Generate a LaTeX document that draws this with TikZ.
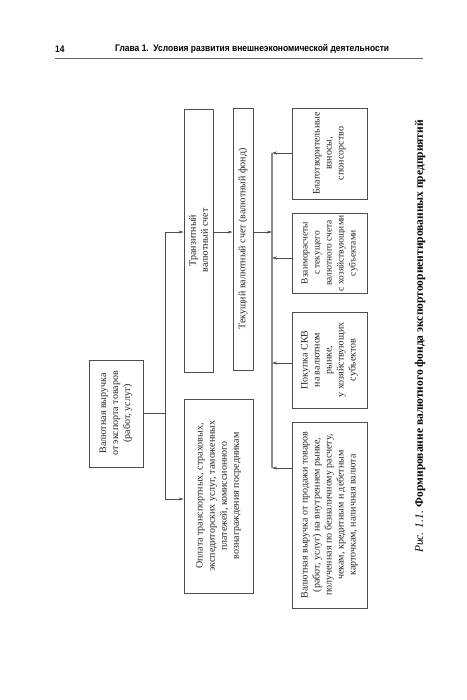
\documentclass[tikz,border=0pt]{standalone}
\usepackage{fontspec}
\setmainfont{Liberation Serif}
\newfontfamily\hdrfont[FakeStretch=0.88]{Liberation Sans}
\usetikzlibrary{arrows.meta}
\begin{document}
\begin{tikzpicture}[x=1pt,y=-1pt,
  box/.style={draw=black!70, line width=0.7pt, rotate=90, inner sep=0pt, align=center,
    font=\fontsize{10}{12}\selectfont, text=black!85},
  conn/.style={draw=black!70, line width=0.7pt},
  arr/.style={conn, -{Stealth[length=5pt,width=3pt]}},
  bus/.style={draw=black!45, line width=1.3pt},
]
\useasboundingbox (0,0) rectangle (466,700);
\fill[white] (0,0) rectangle (466,700);

% header
\node[anchor=west, inner sep=0pt, font=\hdrfont\bfseries\fontsize{9.6}{11}\selectfont] (pg) at (55,49) {14};
\node[anchor=west, inner sep=0pt, font=\hdrfont\bfseries\fontsize{9.6}{11}\selectfont] (hd) at (115,49) {Глава 1.~~Условия развития внешнеэкономической деятельности};
\coordinate (r1) at (55,58);
\coordinate (r2) at (423,58);
\draw[black!60, line width=0.8pt] (r1) -- (r2);

% boxes
\node[box, minimum width=107, minimum height=54] (A) at (116,413.5)
  {Валютная выручка\\от экспорта товаров\\(работ, услуг)};
\node[box, minimum width=263, minimum height=29] (B) at (198.5,240.5)
  {Транзитный\\валютный счет};
\node[box, minimum width=194, minimum height=69] (C) at (218.5,496)
  {Оплата транспортных, страховых,\\экспедиторских услуг, таможенных\\платежей, комиссионного\\вознаграждения посредникам};
\node[box, minimum width=262, minimum height=20] (D) at (243,239)
  {Текущий валютный счет (валютный фонд)};
\node[box, minimum width=91, minimum height=75] (E) at (329.5,153.5)
  {Благотворительные\\взносы,\\спонсорство};
\node[box, minimum width=80, minimum height=75, font=\fontsize{9.4}{12}\selectfont] (F) at (329.5,253)
  {Взаиморасчеты\\с текущего\\валютного счета\\с хозяйствующими\\субъектами};
\node[box, minimum width=96, minimum height=75] (G) at (329.5,360)
  {Покупка СКВ\\на валютном\\рынке,\\у хозяйствующих\\субъектов};
\node[box, minimum width=186, minimum height=75] (H) at (329.5,515)
  {Валютная выручка от продажи товаров\\(работ, услуг) на внутреннем рынке,\\полученная по безналичному расчету,\\чекам, кредитным и дебетным\\карточкам, наличная валюта};

% caption
\node[rotate=90, inner sep=0pt, font=\fontsize{11.5}{13}\selectfont] (cap) at (420,336.5)
  {\textit{Рис. 1.1.} \textbf{Формирование валютного фонда экспортоориентированных предприятий}};

% connectors
\coordinate (j1) at (165,232);
\coordinate (j2) at (165,499);
\coordinate (b1) at (272,153);
\coordinate (b2) at (272,258);
\coordinate (b3) at (272,363);
\coordinate (b4) at (272,468);

\draw[conn] (A.south) -- (A.south -| j1);
\draw[conn] (j1) -- (j2);
\draw[arr] (j1) -- (j1 -| B.north);
\draw[arr] (j2) -- (j2 -| C.north);
\draw[arr] (j1 -| B.south) -- (j1 -| D.north);
\draw[arr] (j1 -| D.south) -- (j1 -| b1);
\draw[bus] (b1) -- (b4);
\draw[arr] (E.north |- b1) -- (b1);
\draw[arr] (F.north |- b2) -- (b2);
\draw[arr] (G.north |- b3) -- (b3);
\draw[arr] (H.north |- b4) -- (b4);
\end{tikzpicture}
\end{document}
